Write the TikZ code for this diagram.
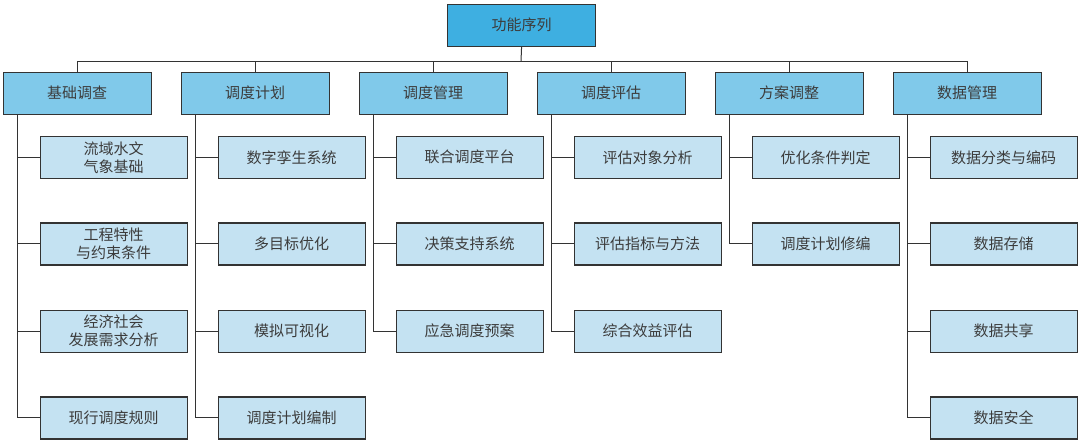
\documentclass[tikz,border=0pt]{standalone}
\usepackage{fontspec}
\setmainfont{Noto Sans CJK SC}
\definecolor{topfill}{HTML}{3EAFE1}
\definecolor{lonefill}{HTML}{80C9EA}
\definecolor{ltwofill}{HTML}{C4E2F2}
\definecolor{edgecol}{HTML}{333333}
\definecolor{txtcol}{HTML}{3C3C3C}
\begin{document}
\begin{tikzpicture}[x=1pt,y=-1pt,
  box/.style={draw=edgecol,line width=1.2pt,anchor=north west,inner sep=0pt,
    text=txtcol,align=center,font=\fontsize{15}{18}\selectfont},
  topbox/.style={box,fill=topfill,minimum width=148pt,minimum height=42pt},
  lonebox/.style={box,fill=lonefill,minimum width=148pt,minimum height=42pt},
  ltwobox/.style={box,fill=ltwofill,minimum width=147pt,minimum height=42pt},
  conn/.style={draw=edgecol,line width=1pt}]
\useasboundingbox (0,0) rectangle (1080,442);
\node[topbox] (top) at (447,3.5) {功能序列};
\coordinate (bus) at (521,61);
% level 1
\foreach \i/\n/\t in {0/a/基础调查,1/b/调度计划,2/c/调度管理,3/d/调度评估,4/e/方案调整,5/f/数据管理}{
  \node[lonebox] (L\n) at ({2.5+178*\i},71.5) {\t};
}
% level 2
\node[ltwobox] (a1) at (39.5,135.7) {流域水文\\气象基础};
\node[ltwobox] (a2) at (39.5,222.3) {工程特性\\与约束条件};
\node[ltwobox] (a3) at (39.5,309.5) {经济社会\\发展需求分析};
\node[ltwobox] (a4) at (39.5,396.3) {现行调度规则};
\node[ltwobox] (b1) at (217.5,135.7) {数字孪生系统};
\node[ltwobox] (b2) at (217.5,222.3) {多目标优化};
\node[ltwobox] (b3) at (217.5,309.5) {模拟可视化};
\node[ltwobox] (b4) at (217.5,396.3) {调度计划编制};
\node[ltwobox] (c1) at (395.5,135.7) {联合调度平台};
\node[ltwobox] (c2) at (395.5,222.3) {决策支持系统};
\node[ltwobox] (c3) at (395.5,309.5) {应急调度预案};
\node[ltwobox] (d1) at (573.5,135.7) {评估对象分析};
\node[ltwobox] (d2) at (573.5,222.3) {评估指标与方法};
\node[ltwobox] (d3) at (573.5,309.5) {综合效益评估};
\node[ltwobox] (e1) at (751.5,135.7) {优化条件判定};
\node[ltwobox] (e2) at (751.5,222.3) {调度计划修编};
\node[ltwobox] (f1) at (929.5,135.7) {数据分类与编码};
\node[ltwobox] (f2) at (929.5,222.3) {数据存储};
\node[ltwobox] (f3) at (929.5,309.5) {数据共享};
\node[ltwobox] (f4) at (929.5,396.3) {数据安全};
% connectors top
\draw[conn] (top.south) -- (bus);
\foreach \n in {a,b,c,d,e,f}{
  \draw[conn] (L\n.north) |- (bus);
}
% connectors level 2
\foreach \n/\k in {a/4,b/4,c/3,d/3,e/2,f/4}{
  \draw[conn] ([xshift=14.7pt]L\n.south west) |- (\n\k.west);
  \foreach \j in {1,...,\k}{
    \draw[conn] ([xshift=14.7pt]L\n.south west |- \n\j.west) -- (\n\j.west);
  }
}
\end{tikzpicture}
\end{document}
